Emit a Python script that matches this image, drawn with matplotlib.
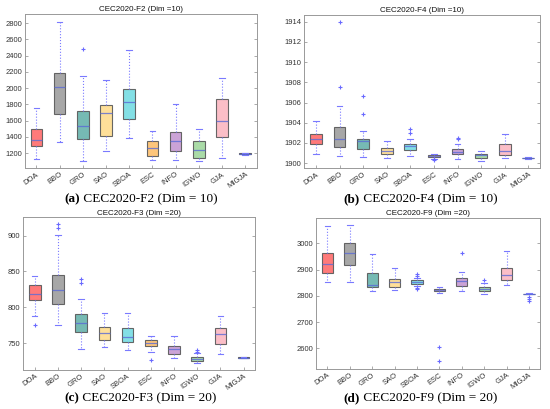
import matplotlib
matplotlib.use("Agg")
import matplotlib.pyplot as plt

algos = ["DOA", "BBO", "GRO", "SAO", "SBOA", "ESC", "INFO", "IGWO", "GJA", "MIGJA"]
colors = ["#ff6f6f", "#a0a0a0", "#6ab4ae", "#fedd90", "#78dde3",
          "#fdc070", "#c79bd3", "#a3d8a0", "#fbb9c3", "#3050c0"]

# Panel (a) CEC2020-F2 Dim=10
f2_lo = [1130, 1340, 1100, 1230, 1390, 1110, 1120, 1105, 1145, 1178]
f2_q1 = [1290, 1680, 1375, 1410, 1620, 1165, 1225, 1135, 1400, 1186]
f2_med = [1360, 2020, 1535, 1695, 1830, 1260, 1350, 1240, 1595, 1192]
f2_q3 = [1500, 2190, 1725, 1795, 1990, 1350, 1465, 1355, 1870, 1198]
f2_hi = [1760, 2820, 2145, 2100, 2475, 1470, 1800, 1500, 2120, 1205]
f2_fl = [[], [], [2480], [], [], [], [], [], [], []]

# Panel (b) CEC2020-F4 Dim=10
f4_lo = [1900.85, 1900.66, 1900.56, 1900.46, 1900.65, 1900.45, 1900.40, 1900.25, 1900.50, 1900.42]
f4_q1 = [1901.87, 1901.64, 1901.44, 1900.90, 1901.28, 1900.60, 1900.85, 1900.55, 1900.80, 1900.46]
f4_med = [1902.36, 1902.43, 1902.20, 1901.20, 1901.70, 1900.70, 1901.10, 1900.75, 1901.20, 1900.50]
f4_q3 = [1902.92, 1903.54, 1902.36, 1901.50, 1901.90, 1900.80, 1901.35, 1900.85, 1901.85, 1900.54]
f4_hi = [1904.20, 1905.70, 1903.15, 1902.20, 1902.40, 1900.90, 1901.85, 1901.15, 1902.90, 1900.58]
f4_fl = [[], [1907.5, 1913.95], [1904.85, 1906.65], [], [1902.95, 1903.4],
         [1900.3, 1900.4], [1902.35, 1902.45], [], [], []]

# Panel (c) CEC2020-F3 Dim=20
f3_lo = [787.8, 775.0, 742.0, 744.4, 740.7, 737.5, 729.0, 721.6, 734.6, 728.9]
f3_q1 = [809.6, 804.0, 765.4, 754.2, 752.0, 745.4, 734.7, 725.0, 749.0, 729.2]
f3_med = [818.0, 824.0, 778.4, 764.0, 758.4, 750.0, 741.2, 727.7, 762.6, 729.5]
f3_q3 = [830.6, 844.6, 790.0, 772.4, 771.0, 753.8, 746.3, 730.0, 770.5, 729.8]
f3_hi = [843.6, 901.4, 812.0, 792.0, 792.0, 760.3, 759.8, 736.5, 787.3, 730.1]
f3_fl = [[775.0], [910.2, 916.3], [834.3, 839.0], [], [], [726.3], [], [738.0, 740.0], [], []]

# Panel (d) CEC2020-F9 Dim=20
f9_lo = [2854, 2854, 2818, 2821.5, 2838, 2811.4, 2818, 2807.6, 2843, 2806]
f9_q1 = [2888.6, 2919, 2833, 2834, 2847, 2818, 2838, 2819, 2861, 2807]
f9_med = [2921.5, 2964.5, 2840.5, 2852, 2854.4, 2821.5, 2857, 2828, 2880, 2808]
f9_q3 = [2962, 3000, 2887, 2863, 2861, 2825.3, 2867, 2834, 2905, 2809]
f9_hi = [3066, 3070, 2959.5, 2905, 2870, 2835.5, 2892.4, 2848, 2972, 2810]
f9_fl = [[], [], [], [], [2828, 2832, 2876, 2882], [2550, 2606], [2962], [2860], [],
         [2782, 2788.6, 2795]]

panels = [
    dict(lo=f2_lo, q1=f2_q1, med=f2_med, q3=f2_q3, hi=f2_hi, fl=f2_fl,
         title="CEC2020-F2 (Dim =10)", cap_b="(a)", cap=" CEC2020-F2 (Dim = 10)",
         ylim=(1016, 2914), yticks=list(range(1200, 2801, 200)),
         pos=[0.045, 0.589, 0.422, 0.377], capxy=(0.255, 0.513)),
    dict(lo=f4_lo, q1=f4_q1, med=f4_med, q3=f4_q3, hi=f4_hi, fl=f4_fl,
         title="CEC2020-F4 (Dim =10)", cap_b="(b)", cap=" CEC2020-F4 (Dim = 10)",
         ylim=(1899.5, 1914.66), yticks=list(range(1900, 1915, 2)),
         pos=[0.553, 0.589, 0.429, 0.374], capxy=(0.764, 0.513)),
    dict(lo=f3_lo, q1=f3_q1, med=f3_med, q3=f3_q3, hi=f3_hi, fl=f3_fl,
         title="CEC2020-F3 (Dim =20)", cap_b="(c)", cap=" CEC2020-F3 (Dim = 20)",
         ylim=(712.3, 925.6), yticks=[750, 800, 850, 900],
         pos=[0.042, 0.0954, 0.422, 0.373], capxy=(0.255, 0.027)),
    dict(lo=f9_lo, q1=f9_q1, med=f9_med, q3=f9_q3, hi=f9_hi, fl=f9_fl,
         title="CEC2020-F9 (Dim =20)", cap_b="(d)", cap=" CEC2020-F9 (Dim = 20)",
         ylim=(2521.5, 3098.7), yticks=[2600, 2700, 2800, 2900, 3000],
         pos=[0.575, 0.098, 0.407, 0.370], capxy=(0.764, 0.027)),
]

sans = ["Liberation Sans", "DejaVu Sans"]
serif = ["Liberation Serif", "DejaVu Serif"]

fig = plt.figure(figsize=(5.5, 4.09), dpi=100)
fig.patch.set_facecolor("white")

for p in panels:
    ax = fig.add_axes(p["pos"])
    stats = []
    for i, name in enumerate(algos):
        stats.append(dict(label=name, whislo=p["lo"][i], q1=p["q1"][i], med=p["med"][i],
                          q3=p["q3"][i], whishi=p["hi"][i], fliers=p["fl"][i]))
    bp = ax.bxp(stats, positions=range(1, len(algos) + 1), widths=0.5,
                patch_artist=True, showfliers=True,
                boxprops=dict(edgecolor="#5a5a5a", linewidth=0.8),
                medianprops=dict(color="#5b6bd6", linewidth=0.9, alpha=0.8),
                whiskerprops=dict(color="#7a7aff", linestyle=":", linewidth=0.8),
                capprops=dict(color="#7a7aff", linewidth=0.8),
                flierprops=dict(marker="+", markeredgecolor="#6a6aff", markersize=3.5,
                                markeredgewidth=0.8, linestyle="none"))
    for patch, c in zip(bp["boxes"], colors):
        patch.set_facecolor(c)
        patch.set_alpha(0.92)
    for cap in bp["caps"]:
        x = cap.get_xdata()
        xc = (x[0] + x[1]) / 2
        cap.set_xdata([xc - 0.12, xc + 0.12])
    ax.set_xlim(0.5, len(algos) + 0.5)
    ax.set_ylim(*p["ylim"])
    ax.set_yticks(p["yticks"])
    ax.set_xticks(range(1, len(algos) + 1))
    ax.set_xticklabels(algos, rotation=35, ha="right", rotation_mode="anchor",
                       fontsize=5.5, family=sans, color="#333333")
    for lab in ax.get_yticklabels():
        lab.set_fontsize(5.5)
        lab.set_family(sans)
        lab.set_color("#333333")
    ax.tick_params(direction="in", length=2.5, width=0.5, colors="#888888",
                   right=True, top=False, pad=2)
    ax.tick_params(axis="both", labelcolor="#333333")
    for s in ax.spines.values():
        s.set_color("#999999")
        s.set_linewidth(0.7)
    ax.set_title(p["title"], fontsize=5.8, family=sans, pad=2, color="#111111")
    cx, cy = p["capxy"]
    t1 = fig.text(cx, cy, p["cap_b"] + p["cap"], fontsize=9.5, family=serif,
                  ha="center", va="center", alpha=0)
    fig.canvas.draw()
    bb = t1.get_window_extent()
    inv = fig.transFigure.inverted()
    x0 = inv.transform((bb.x0, bb.y0))[0]
    tb = fig.text(x0, cy, p["cap_b"], fontsize=9.5, family=serif, weight="bold",
                  ha="left", va="center")
    fig.canvas.draw()
    bb2 = tb.get_window_extent()
    x1 = inv.transform((bb2.x1, bb2.y0))[0]
    fig.text(x1, cy, p["cap"], fontsize=9.5, family=serif, ha="left", va="center")

fig.savefig("out.png", dpi=100)
